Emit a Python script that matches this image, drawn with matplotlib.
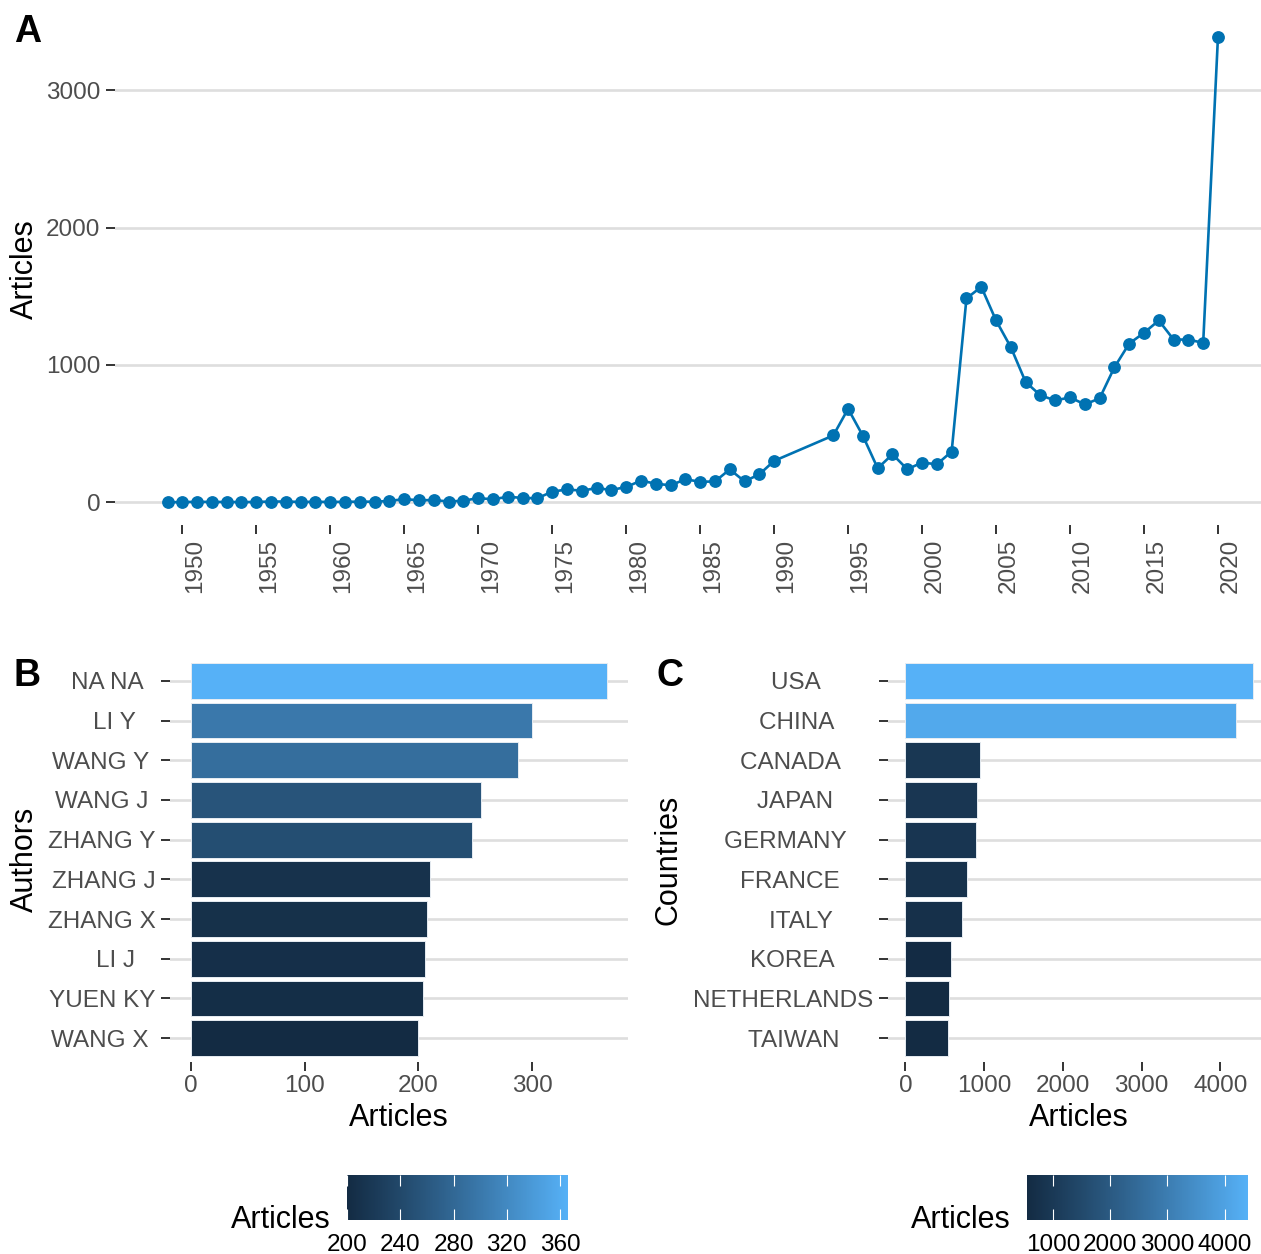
import numpy as np
import matplotlib
matplotlib.use('Agg')
import matplotlib.pyplot as plt
from matplotlib.colors import ListedColormap, Normalize
from matplotlib.cm import ScalarMappable
from matplotlib.transforms import ScaledTranslation

plt.rcParams['font.family'] = ['Liberation Sans', 'DejaVu Sans']

### Data

years = list(range(1949, 1991)) + list(range(1994, 2021))
articles = [1, 2, 4, 3, 3, 2, 3, 6, 6, 3,
            4, 3, 4, 5, 5, 10, 24, 15, 17, 6,
            12, 31, 22, 41, 32, 30, 78, 94, 85, 104,
            90, 112, 158, 136, 124, 168, 150, 152, 240, 153,
            204, 302,
            487, 681, 484, 248, 350, 241, 290, 277, 370, 1484,
            1569, 1324, 1129, 876, 779, 742, 764, 713, 757, 983,
            1156, 1234, 1324, 1185, 1185, 1161, 3389]

authors = ['NA NA', 'LI Y', 'WANG Y', 'WANG J', 'ZHANG Y', 'ZHANG J', 'ZHANG X', 'LI J', 'YUEN KY', 'WANG X']
author_articles = [366, 300, 288, 255, 247, 210, 208, 206, 204, 200]

countries = ['USA', 'CHINA', 'CANADA', 'JAPAN', 'GERMANY', 'FRANCE', 'ITALY', 'KOREA', 'NETHERLANDS', 'TAIWAN']
country_articles = [4410, 4195, 943, 913, 893, 778, 722, 577, 557, 547]

author_cbar_ticks = [200, 240, 280, 320, 360]
country_cbar_ticks = [1000, 2000, 3000, 4000]

### Helpers

W, H = 1261, 1254
LINE_COL = '#0072B2'
GRID_COL = '#DEDEDE'
TICK_COL = '#333333'
TXT_COL = '#4D4D4D'

def rect(l, t, r, b):
    return [l / W, 1 - b / H, (r - l) / W, (b - t) / H]

def hex2rgb(h):
    h = h.lstrip('#')
    return np.array([int(h[i:i + 2], 16) / 255. for i in (0, 2, 4)])

def rgb2lab(c):
    c = np.where(c > 0.04045, ((c + 0.055) / 1.055) ** 2.4, c / 12.92)
    M = np.array([[0.4124, 0.3576, 0.1805], [0.2126, 0.7152, 0.0722], [0.0193, 0.1192, 0.9505]])
    xyz = M @ c / np.array([0.95047, 1.0, 1.08883])
    f = np.where(xyz > 0.008856, np.cbrt(xyz), 7.787 * xyz + 16 / 116.)
    return np.array([116 * f[1] - 16, 500 * (f[0] - f[1]), 200 * (f[1] - f[2])])

def lab2rgb(lab):
    fy = (lab[0] + 16) / 116.
    fx = fy + lab[1] / 500.
    fz = fy - lab[2] / 200.
    f = np.array([fx, fy, fz])
    xyz = np.where(f ** 3 > 0.008856, f ** 3, (f - 16 / 116.) / 7.787) * np.array([0.95047, 1.0, 1.08883])
    Mi = np.array([[3.2406, -1.5372, -0.4986], [-0.9689, 1.8758, 0.0415], [0.0557, -0.2040, 1.0570]])
    c = Mi @ xyz
    c = np.where(c > 0.0031308, 1.055 * np.clip(c, 0, None) ** (1 / 2.4) - 0.055, 12.92 * c)
    return np.clip(c, 0, 1)

def lab_gradient(low, high, n=256):
    a, b = rgb2lab(hex2rgb(low)), rgb2lab(hex2rgb(high))
    return ListedColormap([lab2rgb(a + (b - a) * t) for t in np.linspace(0, 1, n)])

cmap = lab_gradient('#132B43', '#56B1F7')

def style_axis(ax):
    for s in ax.spines.values():
        s.set_visible(False)
    ax.tick_params(axis='both', colors=TICK_COL, labelcolor=TXT_COL, labelsize=17.5,
                   length=6.5, width=1.4, direction='out')
    ax.set_axisbelow(True)

def bar_panel(rc, names, values, ylab, letter, lx, ylx, cb_rc, cb_ticks, maxlen):
    ax = fig.add_axes(rect(*rc))
    style_axis(ax)
    norm = Normalize(min(values), max(values))
    pos = np.arange(len(names))
    ax.barh(pos, values, height=0.9, color=cmap(norm(np.array(values))),
            edgecolor='#E6ECF2', linewidth=0.7, zorder=2)
    ax.set_yticks(pos)
    ax.set_yticklabels([n.ljust(maxlen) for n in names])
    ax.set_ylim(len(names) - 0.4, -0.6)
    ax.set_xlim(-0.05 * max(values), 1.05 * max(values))
    ax.grid(axis='y', color=GRID_COL, linewidth=1.9)
    ax.tick_params(axis='y', pad=4)
    ax.tick_params(axis='x', pad=3)
    cx = (rc[0] + rc[2]) / 2
    fig.text(cx / W, 1 - 1126 / H, 'Articles', fontsize=22, ha='center', va='baseline')
    fig.text(ylx / W, 1 - 859.5 / H, ylab, fontsize=22, rotation=90, ha='center', va='center')
    fig.text(lx / W, 1 - 686 / H, letter, fontsize=27, fontweight='bold', va='baseline')

    cax = fig.add_axes(rect(*cb_rc))
    cb = fig.colorbar(ScalarMappable(norm=norm, cmap=cmap), cax=cax, orientation='horizontal')
    cb.outline.set_visible(False)
    cb.set_ticks(cb_ticks)
    cax.tick_params(axis='x', direction='in', top=True, bottom=True, colors='white',
                    labelcolor='black', length=8, width=0.8, labelsize=17.5, pad=10)
    fig.text((cb_rc[0] - 16) / W, 1 - 1228 / H, 'Articles', fontsize=22, ha='right', va='baseline')
    return ax

### Figure

fig = plt.figure(figsize=(W / 100, H / 100), dpi=100)

# Panel A
axA = fig.add_axes(rect(115, 13.5, 1270.5, 525.5))
style_axis(axA)
axA.plot(years, articles, color=LINE_COL, linewidth=1.9, marker='o', markersize=8.2, zorder=3)
x0, x1 = min(years), max(years)
y0, y1 = min(articles), max(articles)
axA.set_xlim(x0 - 0.05 * (x1 - x0), x1 + 0.05 * (x1 - x0))
axA.set_ylim(y0 - 0.05 * (y1 - y0), y1 + 0.05 * (y1 - y0))
axA.set_xticks(range(1950, 2021, 5))
axA.set_yticks([0, 1000, 2000, 3000])
axA.grid(axis='y', color=GRID_COL, linewidth=1.9)
axA.tick_params(axis='x', pad=3)
for lab in axA.get_xticklabels():
    lab.set_rotation(90)
    lab.set_ha('left')
    lab.set_va('top')
    lab.set_transform(lab.get_transform() + ScaledTranslation(1.5 / 100, 0, fig.dpi_scale_trans))
axA.tick_params(axis='y', pad=4)
fig.text(25 / W, 1 - 269.5 / H, 'Articles', fontsize=22, rotation=90, ha='center', va='center')
fig.text(14 / W, 1 - 42 / H, 'A', fontsize=27, fontweight='bold', va='baseline')

# Panel B and C
bar_panel((170, 657, 628, 1062), authors, author_articles, 'Authors', 'B', 14, 25,
          (347, 1175, 568, 1220), author_cbar_ticks, 7)
bar_panel((888, 657, 1270, 1062), countries, country_articles, 'Countries', 'C', 657, 668,
          (1027, 1175, 1248, 1220), country_cbar_ticks, 11)

fig.savefig('out.png', dpi=100)
